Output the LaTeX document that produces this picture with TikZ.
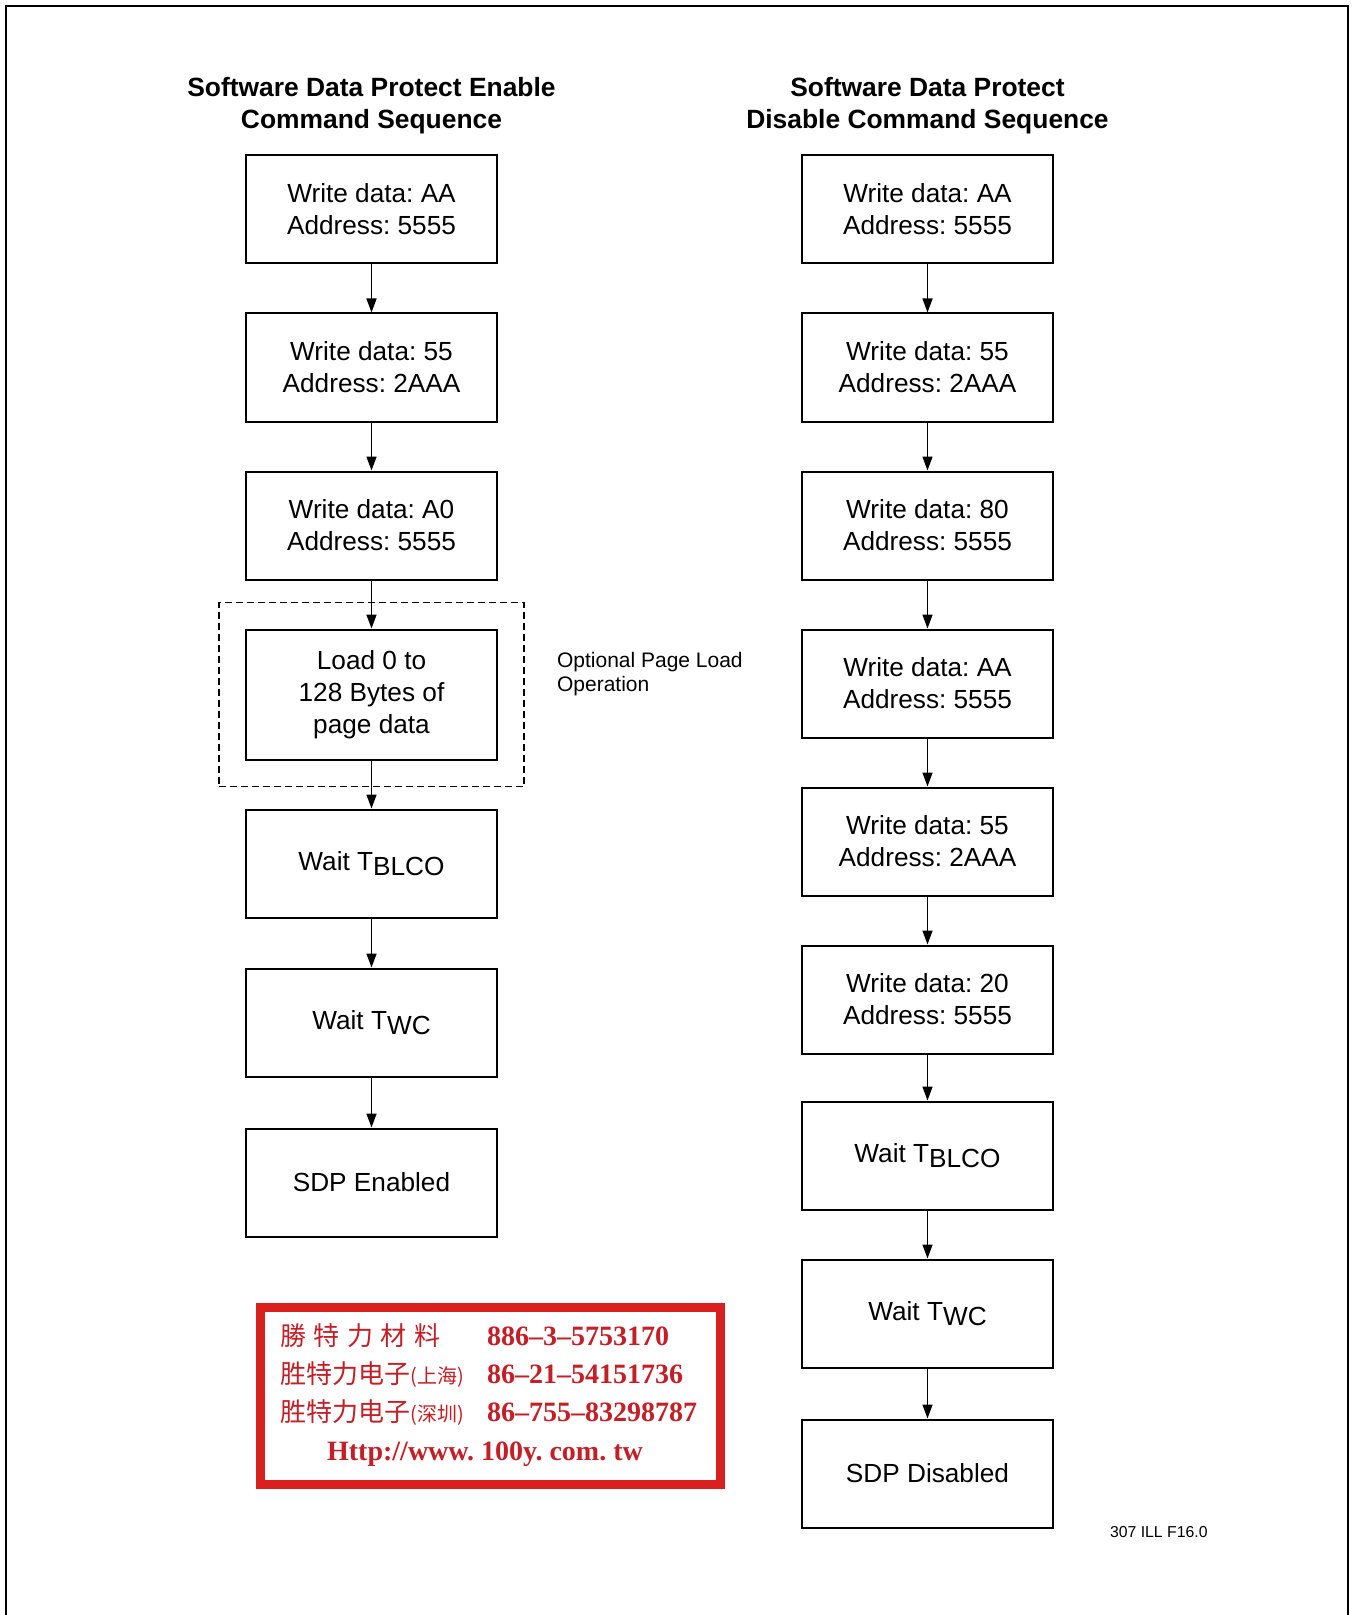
\documentclass[tikz,border=0pt]{standalone}
\usepackage{fontspec}
\setmainfont{Liberation Sans}
\newfontfamily\stampfont{Liberation Serif}
\newfontfamily\cjk{Noto Sans CJK SC}
\usepackage{tikz}
\usetikzlibrary{arrows.meta, positioning, fit}
\frenchspacing

\definecolor{stampred}{RGB}{218,32,30}
\definecolor{stampink}{RGB}{196,30,38}
\newcommand{\lowtext}[1]{\raisebox{-2.5pt}{#1}}

\begin{document}
\begin{tikzpicture}[x=0.5pt, y=-0.5pt,
		cmdbox/.style={rectangle, draw, line width=1pt, minimum width=125.5pt, minimum height=54pt, align=center, font=\fontsize{13.1}{16}\selectfont},
		flow/.style={-{Triangle[length=7pt,width=5pt]}, line width=0.8pt},
		title/.style={align=center, font=\bfseries\fontsize{13.2}{16}\selectfont},
		stamptext/.style={anchor=base west, inner sep=0pt, text=stampink, font=\fontsize{14}{14}\selectfont},
		node distance=24pt]
			\useasboundingbox (0,0) rectangle (1351,1615);
			\draw[line width=1pt] (6,1615) -- (6,6) -- (1348,6) -- (1348,1615);

			\node[title] (tE) at (371.5,105.5) {Software Data Protect Enable\\Command Sequence};
			\node[title] (tD) at (927.5,105.5) {Software Data Protect\\Disable Command Sequence};

			\node[cmdbox] (E1) at (371.5,209.5) {Write data: AA\\Address: 5555};
			\node[cmdbox, below=of E1] (E2) {Write data: 55\\Address: 2AAA};
			\node[cmdbox, below=of E2] (E3) {Write data: A0\\Address: 5555};
			\node[cmdbox, below=of E3, minimum height=65pt] (E4) {Load 0 to\\128 Bytes of\\page data};
			\node[cmdbox, below=of E4] (E5) {Wait T\lowtext{BLCO}};
			\node[cmdbox, below=24.5pt of E5] (E6) {Wait T\lowtext{WC}};
			\node[cmdbox, below=25pt of E6] (E7) {SDP Enabled};

			\node[draw, dashed, dash pattern=on 3.5pt off 2pt, line width=0.9pt, fit=(E4), inner sep=13pt] (opt) {};
			\node[anchor=west, align=left, font=\fontsize{10.5}{12}\selectfont] (optlbl) at (550,674) {Optional Page Load\\Operation};

			\node[cmdbox] (D1) at (927.5,209.5) {Write data: AA\\Address: 5555};
			\node[cmdbox, below=of D1] (D2) {Write data: 55\\Address: 2AAA};
			\node[cmdbox, below=of D2] (D3) {Write data: 80\\Address: 5555};
			\node[cmdbox, below=of D3] (D4) {Write data: AA\\Address: 5555};
			\node[cmdbox, below=of D4] (D5) {Write data: 55\\Address: 2AAA};
			\node[cmdbox, below=of D5] (D6) {Write data: 20\\Address: 5555};
			\node[cmdbox, below=23pt of D6] (D7) {Wait T\lowtext{BLCO}};
			\node[cmdbox, below=of D7] (D8) {Wait T\lowtext{WC}};
			\node[cmdbox, below=25pt of D8] (D9) {SDP Disabled};

			\foreach \a/\b in {E1/E2, E2/E3, E3/E4, E4/E5, E5/E6, E6/E7, D1/D2, D2/D3, D3/D4, D4/D5, D5/D6, D6/D7, D7/D8, D8/D9}
				\draw[flow] (\a) -- (\b);

			\node[anchor=west, font=\fontsize{7.9}{9}\selectfont] (figid) at (1103,1532) {307 ILL F16.0};

			\draw[stampred, line width=4.5pt] (260.5,1307.5) rectangle (720.5,1484.5);
			\node[stamptext] (tel1) at (280,1345) {\makebox[103.3pt][l]{\makebox[80pt][s]{\cjk\fontsize{13}{13}\selectfont 勝\hfill 特\hfill 力\hfill 材\hfill 料}}{\stampfont\bfseries 886–3–5753170}};
			\node[stamptext] (tel2) at (280,1383.5) {\makebox[103.3pt][l]{\cjk\fontsize{13}{13}\selectfont 胜特力电子{\fontsize{10}{10}\selectfont(上海)}}{\stampfont\bfseries 86–21–54151736}};
			\node[stamptext] (tel3) at (280,1421.5) {\makebox[103.3pt][l]{\cjk\fontsize{13}{13}\selectfont 胜特力电子{\fontsize{10}{10}\selectfont(深圳)}}{\stampfont\bfseries 86–755–83298787}};
			\node[stamptext, anchor=base] (url) at (485,1460.5) {\stampfont\bfseries Http://www. 100y. com. tw};
		\end{tikzpicture}
\end{document}
